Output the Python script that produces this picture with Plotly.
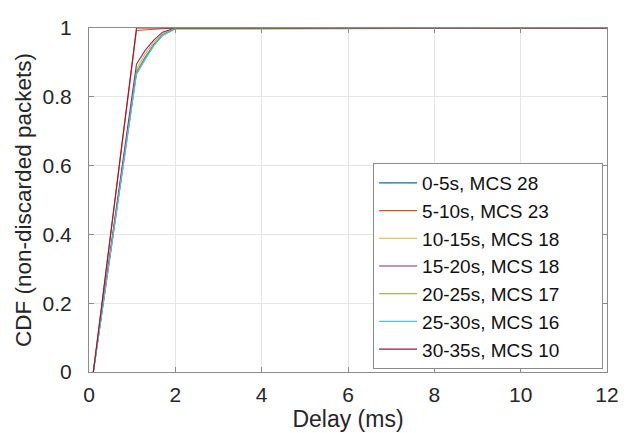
import plotly.graph_objects as go

names = ["0-5s, MCS 28", "5-10s, MCS 23", "10-15s, MCS 18", "15-20s, MCS 18",
         "20-25s, MCS 17", "25-30s, MCS 16", "30-35s, MCS 10"]
colors = ["#0072BD", "#D95319", "#EDB120", "#7E2F8E", "#77AC30", "#4DBEEE", "#A2142F"]

x_slow = [0.1, 1.1, 1.3, 1.5, 1.7, 2.0, 12]
x_orange = [0.1, 1.1, 1.6, 2.0, 12]
x_fast = [0.1, 1.1, 12]

y_0_5 = [0, 0.870, 0.915, 0.952, 0.980, 1.0, 1.0]
y_5_10 = [0, 0.993, 0.997, 1.0, 1.0]
y_10_15 = [0, 0.880, 0.925, 0.958, 0.985, 1.0, 1.0]
y_15_20 = [0, 0.895, 0.935, 0.965, 0.988, 1.0, 1.0]
y_20_25 = [0, 0.872, 0.912, 0.950, 0.978, 0.997, 1.0]
y_25_30 = [0, 0.865, 0.908, 0.948, 0.978, 1.0, 1.0]
y_30_35 = [0, 1.0, 1.0]

series = [
    (x_slow, y_0_5), (x_orange, y_5_10), (x_slow, y_10_15), (x_slow, y_15_20),
    (x_slow, y_20_25), (x_slow, y_25_30), (x_fast, y_30_35),
]

x_ticks = [0, 2, 4, 6, 8, 10, 12]
y_ticks = [0, 0.2, 0.4, 0.6, 0.8, 1]
y_tick_text = ["0", "0.2", "0.4", "0.6", "0.8", "1"]

fig = go.Figure()
for name, color, (xs, ys) in zip(names, colors, series):
    fig.add_trace(go.Scatter(x=xs, y=ys, mode="lines", name=name + "\u00a0" * 7,
                             line=dict(color=color, width=1.1)))

font = "Liberation Sans, Arial, sans-serif"
axis_common = dict(showline=True, linecolor="#8c8c8c", linewidth=1, mirror="ticks",
                   ticks="inside", ticklen=5, tickcolor="#8c8c8c",
                   showgrid=True, gridcolor="#e6e6e6", zeroline=False,
                   ticklabeloverflow="allow",
                   tickfont=dict(size=21, color="#262626", family=font))

# page body has an 8px margin: figure occupies screen (8..627, 8..433)
fig.update_layout(
    width=619, height=425,
    margin=dict(l=81, r=8, t=12, b=61),
    paper_bgcolor="white", plot_bgcolor="white",
    font=dict(family=font, color="#262626"),
    xaxis=dict(range=[0, 12], tickvals=x_ticks, ticklabelstandoff=4,
               title=dict(text="Delay (ms)", font=dict(size=23), standoff=0),
               **axis_common),
    yaxis=dict(range=[0, 1], tickvals=y_ticks, ticktext=y_tick_text, ticklabelstandoff=12,
               title=dict(text="CDF (non-discarded packets)", font=dict(size=22.5), standoff=4),
               **axis_common),
    legend=dict(x=(615 - 89) / 530, y=(372 - 369) / 352, xanchor="right", yanchor="bottom",
                bgcolor="white", bordercolor="#8c8c8c", borderwidth=1,
                font=dict(size=19, color="#111111", family=font),
                itemwidth=38, tracegroupgap=0),
    showlegend=True,
)

fig.write_html("out.html")
